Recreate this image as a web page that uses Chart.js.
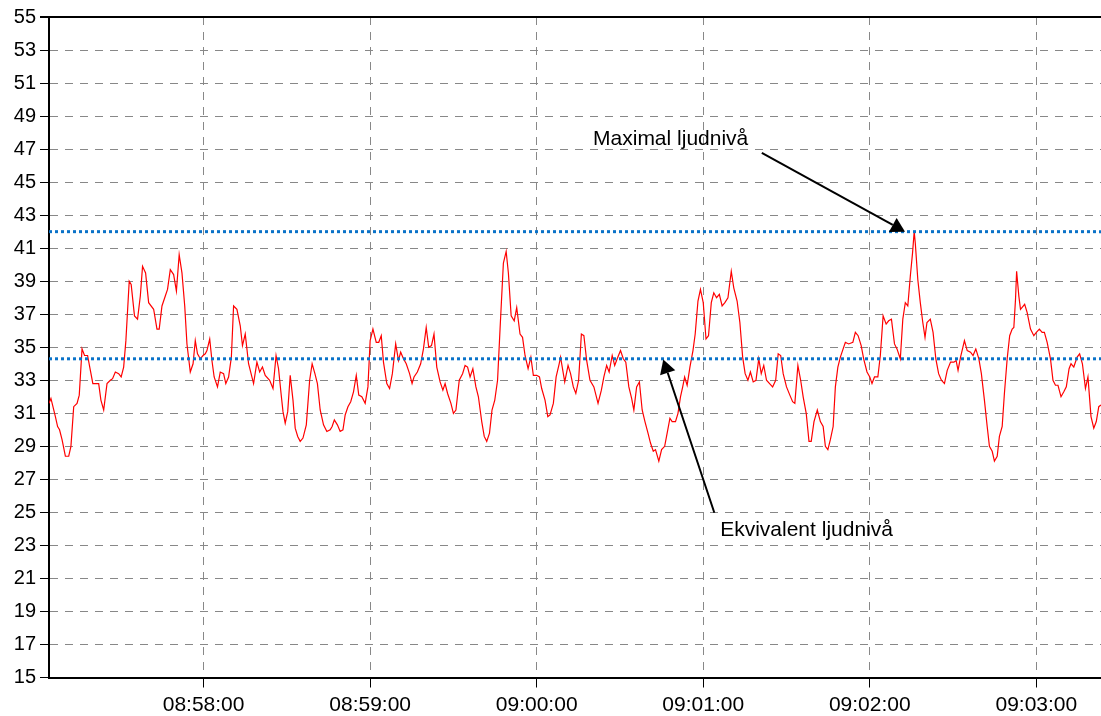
<!DOCTYPE html>
<html>
<head>
<meta charset="utf-8">
<script src="https://cdn.jsdelivr.net/npm/chart.js@4.4.1/dist/chart.umd.min.js"></script>
<style>
    body { margin: 0; background: #fff; }
    #wrap { width: 1101px; height: 716px; }
</style>
</head>
<body>
<div id="wrap"><canvas id="noiseChart" width="1101" height="716"></canvas></div>
<script>
// time of each sample, in seconds after 08:57:00
const seconds = [
    4.3, 5.0, 6.6, 7.4, 8.1, 9.0, 10.2, 11.4, 12.2, 13.2,
    14.4, 15.2, 16.2, 17.1, 18.2, 19.2, 20.1, 22.2, 23.0, 24.0,
    25.2, 26.4, 27.2, 28.2, 29.4, 30.3, 31.2, 32.0, 32.7, 33.2,
    33.9, 35.1, 36.2, 37.2, 38.0, 39.1, 40.2, 42.0, 43.2, 44.0,
    45.0, 46.2, 47.0, 48.0, 49.2, 50.2, 51.2, 52.2, 53.2, 54.0,
    55.2, 56.2, 57.0, 57.8, 58.8, 59.8, 60.6, 61.2, 62.2, 63.0,
    63.8, 65.0, 66.0, 67.2, 68.0, 69.0, 70.0, 70.8, 72.0, 73.2,
    74.0, 75.0, 76.2, 78.0, 79.2, 80.2, 81.2, 82.2, 83.8, 85.0,
    86.1, 87.0, 87.9, 88.6, 89.4, 90.3, 91.2, 92.2, 93.0, 93.9,
    94.8, 95.8, 97.0, 98.2, 99.1, 100.1, 101.0, 102.0, 103.2, 104.4,
    105.6, 106.3, 107.1, 108.2, 109.2, 110.2, 111.0, 112.0, 113.0, 114.0,
    115.0, 115.9, 117.0, 118.2, 119.2, 120.0, 121.0, 122.2, 123.1, 124.0,
    124.8, 126.0, 127.0, 128.0, 129.2, 130.2, 131.0, 132.0, 133.0, 134.2,
    135.1, 135.8, 137.0, 138.2, 139.2, 140.2, 141.1, 142.1, 143.0, 144.0,
    145.2, 146.2, 147.0, 147.9, 149.1, 150.0, 150.9, 152.1, 153.3, 154.2,
    155.1, 156.0, 157.0, 158.1, 159.0, 160.2, 161.1, 162.0, 163.0, 163.9,
    164.9, 165.9, 166.8, 168.0, 169.0, 169.8, 170.8, 171.9, 172.8, 174.0,
    174.9, 175.8, 176.9, 177.9, 178.8, 180.0, 181.0, 181.8, 183.0, 184.0,
    184.8, 186.0, 187.0, 188.1,
    188.6, 190.1, 191.3, 192.2, 193.2, 194.1, 195.1, 196.1, 197.0, 198.0,
    199.2, 200.6, 202.1, 203.3, 204.2, 205.2, 206.1, 207.2, 208.1, 209.0,
    210.2, 211.2, 212.1, 213.2, 214.2, 215.0, 216.0, 217.0, 218.0, 219.0,
    220.1, 221.0, 222.0, 222.8, 224.0, 225.0, 226.1, 227.0, 228.0, 228.8,
    230.0, 230.9, 231.8, 232.6, 233.3, 234.2, 235.2, 236.3, 237.1, 238.1,
    239.0, 240.0, 241.0, 241.9, 242.9, 243.8, 244.8, 245.8, 246.8, 247.8,
    248.9, 250.1, 251.0, 252.2, 253.2, 254.2, 255.1, 256.1, 257.0, 258.0,
    259.0, 260.0, 260.9, 261.8, 262.8, 263.9, 265.0, 266.1, 267.0, 267.9,
    268.8, 270.0, 271.2, 272.2, 273.0, 274.1, 275.1, 276.0, 277.1, 278.1,
    278.9, 279.9, 281.1,
    282.2, 283.2, 284.0, 284.9, 285.8, 286.8, 287.6, 288.5, 289.4, 290.4,
    291.2, 292.4, 293.9, 294.8, 295.8, 296.9, 297.8, 299.0, 300.0, 300.8,
    301.7, 302.9, 303.8, 304.8, 305.9, 306.8, 307.8, 308.9, 309.8, 311.0,
    311.9, 312.8, 313.7, 314.6, 315.4, 316.0, 316.4, 317.3, 318.2, 319.1,
    319.9, 320.6, 321.8, 322.8, 323.8, 324.8, 325.8, 326.9, 327.9, 329.1,
    330.3, 331.1, 331.8, 332.7, 334.1, 335.1, 336.3, 337.2, 338.2, 339.3,
    340.2, 341.3, 342.3, 343.1, 344.1, 344.9, 345.9, 346.7, 347.7, 348.5,
    349.5, 350.4, 351.3, 351.9, 352.5, 352.9, 353.7, 354.3, 355.8, 356.7,
    357.9, 359.1, 360.0, 361.1, 362.1, 362.9, 363.9, 365.1, 366.0, 366.9,
    367.8, 368.9, 369.9, 370.8, 371.8, 372.5, 373.5, 374.7, 375.6, 376.6,
    377.7, 378.6, 379.7, 380.7, 381.6, 382.5, 383.3
];

// sound level in dB(A), same order as seconds
const levels = [
    31.6, 31.9, 30.8, 30.2, 30.0, 29.4, 28.4, 28.4, 29.0, 31.4,
    31.6, 32.1, 34.9, 34.5, 34.5, 33.6, 32.8, 32.8, 31.8, 31.2,
    32.8, 33.0, 33.1, 33.5, 33.4, 33.2, 33.8, 35.4, 37.5, 39.0,
    38.8, 36.9, 36.7, 38.1, 39.9, 39.5, 37.7, 37.3, 36.1, 36.1,
    37.5, 38.1, 38.5, 39.7, 39.4, 38.4, 40.6, 39.5, 37.5, 35.2,
    33.5, 34.0, 35.4, 34.6, 34.3, 34.5, 34.6, 34.8, 35.5, 34.2,
    33.2, 32.6, 33.5, 33.4, 32.8, 33.2, 34.4, 37.5, 37.3, 36.3,
    35.1, 35.8, 34.0, 32.8, 34.1, 33.5, 33.8, 33.3, 33.0, 32.5,
    34.5, 33.7, 32.2, 31.1, 30.4, 31.1, 33.3, 31.8, 30.1, 29.6,
    29.3, 29.5, 30.3, 33.0, 34.0, 33.4, 32.8, 31.2, 30.3, 29.9,
    30.0, 30.2, 30.6, 30.3, 29.9, 30.0, 30.9, 31.4, 31.7, 32.3,
    33.3, 32.1, 32.0, 31.6, 32.6, 35.4, 36.1, 35.3, 35.3, 35.7,
    34.1, 32.8, 32.5, 33.4, 35.2, 34.2, 34.7, 34.3, 34.0, 33.4,
    32.8, 33.2, 33.5, 34.0, 34.9, 36.2, 35.0, 35.1, 35.8, 33.8,
    32.9, 32.4, 32.8, 32.2, 31.6, 31.0, 31.2, 33.0, 33.4, 33.9,
    33.8, 33.2, 33.7, 32.6, 32.0, 30.5, 29.6, 29.3, 29.8, 31.2,
    31.8, 33.0, 36.1, 40.1, 40.8, 39.5, 36.9, 36.6, 37.4, 35.8,
    35.6, 34.5, 33.7, 34.4, 33.3, 33.3, 33.2, 32.5, 31.8, 30.8,
    30.9, 31.6, 33.2, 34.0,
    34.4, 32.9, 33.9, 33.4, 32.6, 32.2, 33.0, 35.8, 35.7, 34.2,
    33.0, 32.6, 31.6, 32.4, 33.2, 33.9, 33.5, 34.5, 33.9, 34.3,
    34.8, 34.3, 34.1, 32.6, 31.9, 31.2, 32.6, 32.9, 31.2, 30.5,
    29.8, 29.2, 28.7, 28.8, 28.1, 28.8, 29.0, 29.8, 30.7, 30.5,
    30.5, 31.0, 32.0, 32.6, 33.2, 32.7, 33.8, 34.8, 35.8, 37.8,
    38.5, 37.7, 35.5, 35.7, 37.7, 38.3, 38.0, 38.2, 37.5, 37.7,
    38.0, 39.6, 38.6, 37.8, 36.5, 34.4, 33.4, 33.0, 33.5, 32.9,
    33.0, 34.3, 33.4, 33.9, 33.0, 32.8, 32.6, 33.0, 34.6, 34.5,
    33.4, 32.6, 32.1, 31.7, 31.6, 33.9, 33.0, 32.0, 31.0, 29.3,
    29.3, 30.5, 31.2,
    30.5, 30.2, 29.0, 28.8, 29.4, 30.2, 32.6, 33.8, 34.4, 34.9,
    35.3, 35.2, 35.3, 35.9, 35.7, 35.1, 34.3, 33.5, 33.2, 32.8,
    33.2, 33.2, 34.5, 36.9, 36.4, 36.6, 36.7, 35.2, 34.9, 34.3,
    36.7, 37.7, 37.5, 39.3, 40.7, 42.0, 41.3, 39.1, 37.7, 36.5,
    35.6, 36.5, 36.7, 35.9, 34.3, 33.4, 33.0, 32.8, 33.6, 34.1,
    34.1, 34.2, 33.6, 34.4, 35.4, 34.8, 34.7, 34.5, 34.9, 34.3,
    33.4, 31.8, 30.2, 29.0, 28.7, 28.1, 28.4, 29.6, 30.2, 32.2,
    34.3, 35.7, 36.1, 36.2, 37.9, 39.6, 38.1, 37.3, 37.6, 37.1,
    36.1, 35.7, 35.9, 36.1, 35.9, 35.9, 35.3, 34.3, 33.0, 32.7,
    32.7, 32.0, 32.3, 32.6, 33.7, 34.0, 33.8, 34.4, 34.6, 34.0,
    32.5, 33.2, 30.8, 30.1, 30.5, 31.4, 31.5
];

const maxLevel = 42.0;   // Maximal ljudnivå
const eqLevel = 34.3;    // Ekvivalent ljudnivå

const xRange = [4.3, 383.3];
const xTicks = [60, 120, 180, 240, 300, 360];
const yTicks = [15, 17, 19, 21, 23, 25, 27, 29, 31, 33, 35, 37, 39, 41, 43, 45, 47, 49, 51, 53, 55];

// labels with arrows, in data units (seconds, dB)
const notes = [
    { text: "Maximal ljudnivå", textAt: [200.3, 47.25], from: [261.1, 46.77], to: [312.7, 42.0] },
    { text: "Ekvivalent ljudnivå", textAt: [246.1, 23.55], from: [244.0, 24.98], to: [225.6, 34.26] }
];

const FONT = '"Liberation Sans", Arial, Helvetica, sans-serif';

function clock(s) {
    const t = 8 * 3600 + 57 * 60 + Math.round(s);
    const h = Math.floor(t / 3600), m = Math.floor((t % 3600) / 60), sec = t % 60;
    return [h, m, sec].map((n) => String(n).padStart(2, "0")).join(":");
}

function drawArrow(ctx, x1, y1, x2, y2) {
    const ang = Math.atan2(y2 - y1, x2 - x1);
    const len = 14, half = 8;
    const bx = x2 - len * Math.cos(ang), by = y2 - len * Math.sin(ang);
    ctx.beginPath();
    ctx.moveTo(x1, y1);
    ctx.lineTo(bx, by);
    ctx.lineWidth = 2;
    ctx.strokeStyle = "#000";
    ctx.stroke();
    ctx.beginPath();
    ctx.moveTo(x2, y2);
    ctx.lineTo(bx + half * Math.sin(ang), by - half * Math.cos(ang));
    ctx.lineTo(bx - half * Math.sin(ang), by + half * Math.cos(ang));
    ctx.closePath();
    ctx.fillStyle = "#000";
    ctx.fill();
}

const notesPlugin = {
    id: "notes",
    afterDatasetsDraw(chart) {
        const { ctx, scales: { x, y } } = chart;
        ctx.save();
        ctx.font = "21px " + FONT;
        ctx.textBaseline = "alphabetic";
        ctx.textAlign = "left";
        notes.forEach((n) => {
            ctx.fillStyle = "#000";
            ctx.fillText(n.text, x.getPixelForValue(n.textAt[0]), y.getPixelForValue(n.textAt[1]));
            drawArrow(ctx,
                x.getPixelForValue(n.from[0]), y.getPixelForValue(n.from[1]),
                x.getPixelForValue(n.to[0]), y.getPixelForValue(n.to[1]));
        });
        ctx.restore();
    }
};

const isTop = (c) => c.tick && c.tick.value === 55;

const ctx = document.getElementById("noiseChart").getContext("2d");
new Chart(ctx, {
    type: "line",
    data: {
        datasets: [
            {
                label: "Maximal ljudnivå",
                data: xRange.map((s) => ({ x: s, y: maxLevel })),
                borderColor: "#0a72c8",
                borderWidth: 3,
                borderDash: [3, 3],
                pointRadius: 0,
                order: 0
            },
            {
                label: "Ekvivalent ljudnivå",
                data: xRange.map((s) => ({ x: s, y: eqLevel })),
                borderColor: "#0a72c8",
                borderWidth: 3,
                borderDash: [3, 3],
                pointRadius: 0,
                order: 0
            },
            {
                label: "Ljudnivå",
                data: seconds.map((s, i) => ({ x: s, y: levels[i] })),
                borderColor: "#ff0000",
                borderWidth: 1.2,
                pointRadius: 0,
                tension: 0,
                order: 1
            }
        ]
    },
    options: {
        responsive: false,
        animation: false,
        devicePixelRatio: 1,
        layout: { padding: { top: 17, left: 0, right: 0, bottom: 0 } },
        plugins: {
            legend: { display: false },
            tooltip: { enabled: false }
        },
        scales: {
            x: {
                type: "linear",
                min: xRange[0],
                max: xRange[1],
                afterBuildTicks: (s) => { s.ticks = xTicks.map((v) => ({ value: v })); },
                afterFit: (s) => { s.height = 38.5; },
                ticks: {
                    callback: (v) => clock(v),
                    font: { family: FONT, size: 21 },
                    color: "#000",
                    padding: 5,
                    maxRotation: 0,
                    autoSkip: false
                },
                grid: { color: "#888", lineWidth: 1, tickColor: "#000", tickLength: 10, tickBorderDash: [] },
                border: { color: "#000", width: 2, dash: [8, 7] }
            },
            y: {
                min: 15,
                max: 55,
                afterBuildTicks: (s) => { s.ticks = yTicks.map((v) => ({ value: v })); },
                afterFit: (s) => { s.width = 49; },
                ticks: {
                    font: { family: FONT, size: 20 },
                    color: "#000",
                    padding: 4
                },
                grid: {
                    color: (c) => (isTop(c) ? "#000" : "#888"),
                    lineWidth: (c) => (isTop(c) ? 2 : 1),
                    tickColor: "#000",
                    tickLength: 9,
                    tickBorderDash: []
                },
                border: { color: "#000", width: 2, dash: (c) => (isTop(c) ? [] : [8, 7]) }
            }
        }
    },
    plugins: [notesPlugin]
});
</script>
</body>
</html>
